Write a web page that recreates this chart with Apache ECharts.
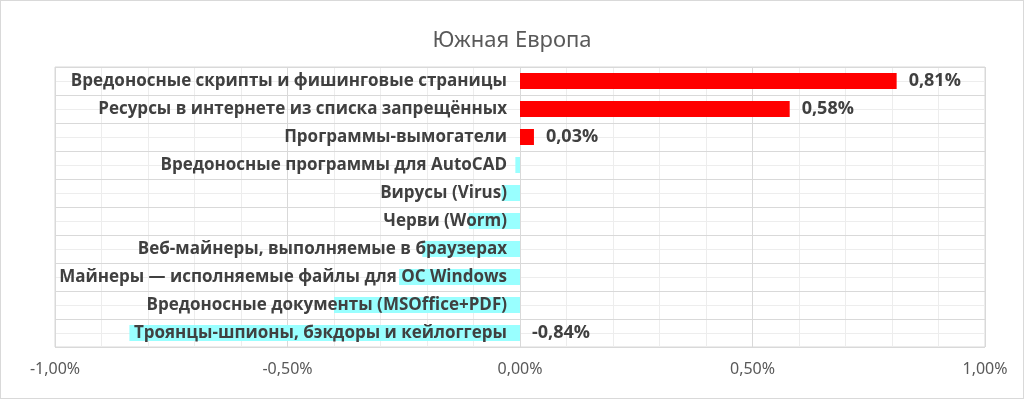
<!DOCTYPE html>
<html>
<head>
<meta charset="utf-8">
<script src="https://cdn.jsdelivr.net/npm/echarts@6/dist/echarts.min.js"></script>
<style>
    html, body { margin: 0; padding: 0; background: #fff; }
    #chart { width: 1022px; height: 397px; border: 1px solid #d9d9d9; }
</style>
</head>
<body>
<div id="chart"></div>
<script>
const categories = [
    'Вредоносные скрипты и фишинговые страницы',
    'Ресурсы в интернете из списка запрещённых',
    'Программы-вымогатели',
    'Вредоносные программы для AutoCAD',
    'Вирусы (Virus)',
    'Черви (Worm)',
    'Веб-майнеры, выполняемые в браузерах',
    'Майнеры — исполняемые файлы для ОС Windows',
    'Вредоносные документы (MSOffice+PDF)',
    'Троянцы-шпионы, бэкдоры и кейлоггеры',
]
// percent change
const values = [0.81, 0.58, 0.03, -0.01, -0.04, -0.11, -0.21, -0.26, -0.40, -0.84]
// which bars carry a value label
const showLabel = [true, true, true, false, false, false, false, false, false, true]

const fmt = v => v.toFixed(2).replace('.', ',') + '%'

const chart = echarts.init(document.getElementById('chart'))

chart.setOption({
    animation: false,
    title: {
        text: 'Южная Европа',
        left: 'center',
        top: 24,
        textStyle: {
            fontFamily: 'Noto Sans',
            fontSize: 22,
            fontWeight: 'normal',
            color: '#595959',
        },
    },
    grid: {
        left: 54,
        right: 38,
        top: 66,
        bottom: 51,
        outerBoundsMode: 'none',
        containLabel: false,
        show: true,
        borderColor: '#d9d9d9',
        borderWidth: 1,
    },
    xAxis: {
        type: 'value',
        min: -1,
        max: 1,
        interval: 0.5,
        axisLine: { show: false },
        axisTick: { show: false },
        axisLabel: {
            formatter: fmt,
            color: '#595959',
            fontFamily: 'Noto Sans',
            fontSize: 16,
            margin: 14,
        },
        splitLine: { lineStyle: { color: '#d9d9d9', width: 1 } },
        minorTick: { show: false, splitNumber: 5 },
        minorSplitLine: { show: true, lineStyle: { color: '#ededed', width: 1 } },
    },
    yAxis: [
        {
            type: 'category',
            inverse: true,
            data: categories,
            z: 10,
            axisLine: { show: false, onZero: false },
            axisTick: { show: false },
            splitLine: { show: true, lineStyle: { color: '#d9d9d9', width: 1 } },
            axisLabel: {
                color: '#404040',
                fontFamily: 'Open Sans',
                fontWeight: 'bold',
                fontSize: 17,
                // labels sit just left of the zero line
                margin: -452,
            },
        },
        {
            type: 'value',
            min: 0,
            max: 10,
            interval: 1,
            show: true,
            axisLine: { show: false },
            axisTick: { show: false },
            axisLabel: { show: false },
            splitLine: { show: false },
            minorTick: { show: false, splitNumber: 2 },
            minorSplitLine: { show: true, lineStyle: { color: '#ededed', width: 1 } },
        },
    ],
    series: [
        {
            type: 'bar',
            yAxisIndex: 0,
            barWidth: 16,
            z: 2,
            data: values.map((v, i) => ({
                value: v,
                itemStyle: { color: v >= 0 ? '#ff0000' : '#99ffff' },
                label: { show: showLabel[i] },
            })),
            label: {
                position: 'right',
                distance: 12,
                formatter: p => fmt(p.value),
                color: '#404040',
                fontFamily: 'Open Sans',
                fontWeight: 'bold',
                fontSize: 18,
            },
        },
    ],
})
</script>
</body>
</html>
